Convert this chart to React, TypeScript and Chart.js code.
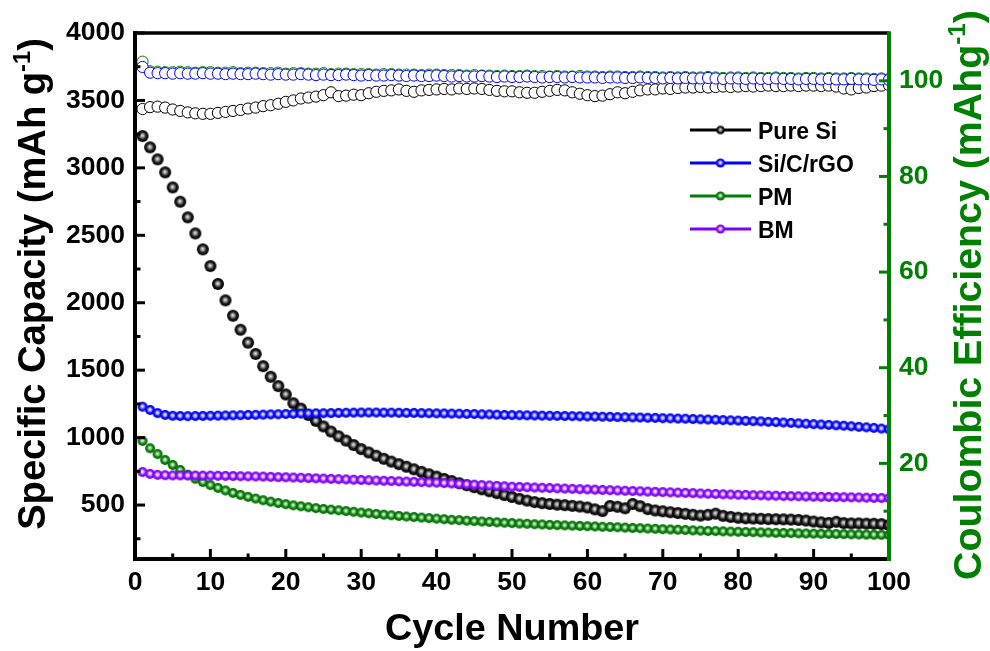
import React, { useEffect, useRef } from 'react';
import { Chart, registerables } from 'chart.js';

Chart.register(...registerables);

const FONT = '"Liberation Sans", Arial, Helvetica, sans-serif';

// ---------- data ----------
const cycles = Array.from({ length: 100 }, (_, i) => i + 1);

const xTicks = [0, 10, 20, 30, 40, 50, 60, 70, 80, 90, 100];
const leftTicks = [500, 1000, 1500, 2000, 2500, 3000, 3500, 4000];
const rightTicks = [20, 40, 60, 80, 100];

const seriesNames = ['Pure Si', 'Si/C/rGO', 'PM', 'BM'];

const pureSiCap = [
  3236, 3152, 3063, 2967, 2855, 2749, 2633, 2514, 2396, 2272,
  2139, 2018, 1904, 1800, 1704, 1620, 1530, 1451, 1382, 1320,
  1255, 1215, 1168, 1124, 1083, 1045, 1010, 978, 945, 915,
  890, 866, 843, 822, 803, 784, 765, 746, 728, 711,
  694, 678, 662, 647, 632, 617, 602, 588, 574, 560,
  546, 533, 522, 514, 508, 503, 499, 494, 489, 482,
  468, 455, 493, 487, 476, 508, 492, 470, 460, 454,
  447, 441, 435, 428, 422, 428, 436, 420, 412, 406,
  402, 400, 398, 396, 395, 394, 392, 390, 385, 378,
  372, 367, 376, 366, 364, 364, 362, 361, 359, 352,
];

const sicrgoCap = [
  1229, 1205, 1182, 1168, 1162, 1160, 1159, 1160, 1161, 1162,
  1163, 1164, 1165, 1166, 1168, 1169, 1170, 1172, 1173, 1175,
  1176, 1178, 1179, 1180, 1181, 1182, 1183, 1184, 1185, 1186,
  1186, 1186, 1185, 1185, 1184, 1183, 1183, 1182, 1181, 1180,
  1179, 1178, 1177, 1176, 1175, 1173, 1172, 1170, 1168, 1167,
  1166, 1165, 1164, 1163, 1162, 1161, 1160, 1159, 1158, 1157,
  1156, 1155, 1154, 1152, 1151, 1150, 1149, 1147, 1146, 1144,
  1143, 1141, 1140, 1138, 1136, 1134, 1132, 1130, 1128, 1126,
  1124, 1122, 1120, 1117, 1115, 1112, 1109, 1106, 1103, 1100,
  1097, 1094, 1091, 1088, 1084, 1080, 1076, 1072, 1067, 1062,
];

const pmCap = [
  975, 921, 878, 834, 797, 760, 725, 695, 670, 648,
  627, 608, 590, 575, 561, 548, 536, 525, 515, 506,
  498, 491, 484, 477, 471, 466, 461, 455, 450, 444,
  439, 434, 429, 424, 419, 415, 411, 407, 403, 399,
  395, 391, 388, 384, 381, 378, 375, 372, 369, 366,
  363, 361, 358, 356, 353, 351, 349, 347, 345, 343,
  341, 339, 337, 335, 333, 330, 328, 326, 324, 321,
  319, 317, 315, 312, 310, 308, 307, 305, 303, 302,
  300, 299, 297, 296, 294, 293, 292, 290, 289, 288,
  287, 286, 285, 284, 283, 282, 281, 280, 279, 278,
];

const bmCap = [
  745, 731, 724, 721, 720, 720, 719, 719, 718, 718,
  717, 716, 715, 714, 713, 712, 711, 709, 707, 706,
  704, 702, 700, 698, 696, 694, 692, 690, 688, 686,
  684, 682, 680, 678, 676, 674, 672, 670, 668, 666,
  663, 660, 657, 654, 651, 648, 645, 642, 639, 636,
  634, 632, 630, 628, 626, 624, 622, 620, 618, 616,
  614, 612, 610, 608, 606, 604, 602, 600, 598, 596,
  594, 592, 590, 588, 586, 584, 582, 580, 578, 576,
  575, 573, 572, 570, 569, 567, 566, 565, 563, 562,
  561, 560, 559, 558, 557, 556, 555, 553, 552, 551,
];

const pureSiCE = [
  94.1, 94.5, 94.6, 94.4, 94.0, 93.7, 93.4, 93.2, 93.1, 93.1,
  93.3, 93.5, 93.7, 93.9, 94.2, 94.4, 94.7, 94.9, 95.2, 95.6,
  95.9, 96.3, 96.5, 96.7, 97.0, 97.6, 96.8, 96.9, 97.1, 97.0,
  97.4, 97.7, 97.9, 98.0, 98.2, 97.9, 97.7, 98.0, 98.1, 98.2,
  98.3, 98.2, 98.4, 98.3, 98.4, 98.3, 98.1, 97.9, 97.8, 97.8,
  97.6, 97.5, 97.5, 97.7, 97.9, 98.1, 98.0, 97.6, 97.3, 97.0,
  96.8, 96.9, 97.2, 97.6, 97.4, 97.7, 98.0, 98.2, 98.2, 98.4,
  98.3, 98.5, 98.6, 98.6, 98.7, 98.6, 98.7, 98.8, 98.7, 98.8,
  98.9, 98.8, 98.9, 99.0, 98.9, 98.9, 99.0, 98.9, 99.0, 99.0,
  98.9, 99.0, 98.8, 98.4, 98.2, 98.5, 98.6, 98.9, 99.0, 99.1,
];

const sicrgoCE = [
  102.9, 101.7, 101.6, 101.6, 101.5, 101.6, 101.5, 101.5, 101.6, 101.5,
  101.5, 101.4, 101.5, 101.4, 101.4, 101.5, 101.4, 101.3, 101.4, 101.3,
  101.3, 101.4, 101.3, 101.2, 101.3, 101.2, 101.2, 101.3, 101.2, 101.1,
  101.2, 101.1, 101.1, 101.2, 101.1, 101.0, 101.1, 101.0, 101.0, 101.1,
  101.0, 100.9, 101.0, 100.9, 100.9, 101.0, 100.9, 100.8, 100.9, 100.8,
  100.8, 100.9, 100.8, 100.7, 100.8, 100.8, 100.7, 100.8, 100.7, 100.7,
  100.7, 100.6, 100.7, 100.7, 100.6, 100.6, 100.7, 100.6, 100.6, 100.5,
  100.6, 100.5, 100.6, 100.5, 100.5, 100.6, 100.5, 100.4, 100.5, 100.5,
  100.4, 100.5, 100.4, 100.4, 100.5, 100.4, 100.4, 100.3, 100.4, 100.4,
  100.3, 100.4, 100.3, 100.3, 100.4, 100.3, 100.3, 100.2, 100.3, 100.2,
];

const pmCE = [
  104.0, 102.0, 101.9, 101.8, 101.8, 101.9, 101.8, 101.7, 101.8, 101.8,
  101.7, 101.7, 101.8, 101.6, 101.7, 101.7, 101.6, 101.6, 101.7, 101.5,
  101.6, 101.6, 101.5, 101.5, 101.6, 101.4, 101.5, 101.5, 101.4, 101.4,
  101.4, 101.3, 101.4, 101.4, 101.3, 101.3, 101.3, 101.2, 101.3, 101.3,
  101.2, 101.2, 101.2, 101.1, 101.2, 101.1, 101.1, 101.0, 101.1, 101.0,
  101.0, 101.1, 101.0, 101.0, 100.9, 101.0, 100.9, 100.9, 101.0, 100.9,
  100.9, 100.8, 100.9, 100.9, 100.8, 100.8, 100.9, 100.8, 100.8, 100.7,
  100.8, 100.7, 100.8, 100.7, 100.7, 100.8, 100.7, 100.6, 100.7, 100.7,
  100.6, 100.7, 100.6, 100.6, 100.7, 100.6, 100.6, 100.5, 100.6, 100.6,
  100.5, 100.6, 100.5, 100.5, 100.6, 100.5, 100.5, 100.4, 100.5, 100.4,
];

// ---------- styling ----------
const BLACK = '#000000';
const BLUE = '#0000ff';
const GREEN = '#008000';
const PURPLE = '#8000ff';

type SphereSpec = { c0: string; c1: string; c2: string; c3: string };
const SPHERE: Record<string, SphereSpec> = {
  black: { c0: '#f4f4f4', c1: '#9a9a9a', c2: '#1a1a1a', c3: '#000000' },
  blue: { c0: '#ffffff', c1: '#b4b4ff', c2: '#1010ff', c3: '#0000e0' },
  green: { c0: '#ffffff', c1: '#9ccf9c', c2: '#0a820a', c3: '#006a00' },
  purple: { c0: '#ffffff', c1: '#e2b8ff', c2: '#8a12ff', c3: '#7400e8' },
};

function makeSphere(spec: SphereSpec, r: number): HTMLCanvasElement {
  const size = Math.ceil(r * 2 + 2);
  const c = document.createElement('canvas');
  c.width = size;
  c.height = size;
  const ctx = c.getContext('2d')!;
  const cx = size / 2;
  const cy = size / 2;
  const g = ctx.createRadialGradient(cx - r * 0.05, cy - r * 0.1, 0, cx, cy, r);
  g.addColorStop(0, spec.c0);
  g.addColorStop(0.28, spec.c1);
  g.addColorStop(0.62, spec.c2);
  g.addColorStop(1, spec.c3);
  ctx.fillStyle = g;
  ctx.beginPath();
  ctx.arc(cx, cy, r, 0, Math.PI * 2);
  ctx.fill();
  return c;
}

type Part = { t: string; sup?: boolean };

function drawRich(
  ctx: CanvasRenderingContext2D,
  parts: Part[],
  target: number,
  color: string,
  cx: number,
  baseline: number,
  rotate: boolean,
) {
  const base = 32;
  const measure = (size: number) => {
    let w = 0;
    for (const p of parts) {
      ctx.font = `bold ${p.sup ? size * 0.62 : size}px ${FONT}`;
      w += ctx.measureText(p.t).width;
    }
    return w;
  };
  const size = (base * target) / measure(base);
  const total = measure(size);
  ctx.save();
  if (rotate) {
    ctx.translate(baseline, cx);
    ctx.rotate(-Math.PI / 2);
  } else {
    ctx.translate(cx, baseline);
  }
  ctx.fillStyle = color;
  ctx.textBaseline = 'alphabetic';
  ctx.textAlign = 'left';
  let x = -total / 2;
  for (const p of parts) {
    ctx.font = `bold ${p.sup ? size * 0.62 : size}px ${FONT}`;
    ctx.fillText(p.t, x, p.sup ? -size * 0.4 : 0);
    x += ctx.measureText(p.t).width;
  }
  ctx.restore();
}

export default function App() {
  const ref = useRef<HTMLCanvasElement | null>(null);

  useEffect(() => {
    document.body.style.margin = '0';
    const canvas = ref.current;
    if (!canvas) return;

    const sBlack = makeSphere(SPHERE.black, 6);
    const sBlue = makeSphere(SPHERE.blue, 5);
    const sGreen = makeSphere(SPHERE.green, 5);
    const sPurple = makeSphere(SPHERE.purple, 5);
    const lBlack = makeSphere(SPHERE.black, 4.3);
    const lBlue = makeSphere(SPHERE.blue, 4.6);
    const lGreen = makeSphere(SPHERE.green, 4.6);
    const lPurple = makeSphere(SPHERE.purple, 4.6);

    const legendItems = [
      { name: seriesNames[0], color: BLACK, img: lBlack },
      { name: seriesNames[1], color: BLUE, img: lBlue },
      { name: seriesNames[2], color: GREEN, img: lGreen },
      { name: seriesNames[3], color: PURPLE, img: lPurple },
    ];

    const mk = (ys: number[]) => ys.map((y, i) => ({ x: cycles[i], y }));

    const sphereSet = (label: string, ys: number[], img: HTMLCanvasElement, order: number, color: string) => ({
      label,
      data: mk(ys),
      yAxisID: 'y',
      showLine: false,
      pointStyle: img as any,
      pointRadius: 5,
      pointHoverRadius: 5,
      borderColor: color,
      backgroundColor: color,
      order,
    });

    const ringSet = (label: string, ys: number[], color: string, order: number) => ({
      label,
      data: mk(ys),
      yAxisID: 'y2',
      showLine: false,
      pointStyle: 'circle',
      pointRadius: 5.6,
      pointHoverRadius: 5.6,
      pointBorderWidth: 1,
      borderColor: color,
      pointBorderColor: color,
      backgroundColor: '#ffffff',
      pointBackgroundColor: '#ffffff',
      order,
    });

    const tickFont = { family: FONT, size: 26.5, weight: 'bold' as const };

    const framePlugin = {
      id: 'frame',
      afterDatasetsDraw(chart: any) {
        const { ctx, chartArea: a, scales } = chart;
        const sx = scales.x;
        const sy = scales.y;
        const sy2 = scales.y2;
        ctx.save();
        const seg = (x1: number, y1: number, x2: number, y2: number, color: string, w: number) => {
          ctx.beginPath();
          ctx.strokeStyle = color;
          ctx.lineWidth = w;
          ctx.moveTo(x1, y1);
          ctx.lineTo(x2, y2);
          ctx.stroke();
        };
        const MAJ = 10;
        const MIN = 5.5;
        // x ticks
        for (let i = 0; i < xTicks.length; i++) {
          const px = sx.getPixelForValue(xTicks[i]);
          seg(px, a.bottom, px, a.bottom - MAJ, BLACK, 3);
          if (i < xTicks.length - 1) {
            const pm = sx.getPixelForValue((xTicks[i] + xTicks[i + 1]) / 2);
            seg(pm, a.bottom, pm, a.bottom - MIN, BLACK, 3);
          }
        }
        // left ticks
        for (let i = 0; i < leftTicks.length; i++) {
          const py = sy.getPixelForValue(leftTicks[i]);
          seg(a.left, py, a.left + MAJ, py, BLACK, 3);
        }
        for (let i = 1; i < leftTicks.length; i++) {
          const py = sy.getPixelForValue((leftTicks[i] + leftTicks[i - 1]) / 2);
          seg(a.left, py, a.left + MIN, py, BLACK, 3);
        }
        {
          const py = sy.getPixelForValue(leftTicks[0] - (leftTicks[1] - leftTicks[0]) / 2);
          if (py < a.bottom - 2) seg(a.left, py, a.left + MIN, py, BLACK, 3);
        }
        // right ticks
        const rt = [0, ...rightTicks];
        for (let i = 0; i < rt.length; i++) {
          const py = sy2.getPixelForValue(rt[i]);
          seg(a.right, py, a.right - MAJ, py, GREEN, 3);
          const pm = sy2.getPixelForValue(rt[i] + (rightTicks[1] - rightTicks[0]) / 2);
          if (pm > a.top + 2) seg(a.right, pm, a.right - MIN, pm, GREEN, 3);
        }
        // frame
        const W = 4;
        seg(a.left - W / 2, a.top, a.right, a.top, BLACK, 3.5);
        seg(a.left, a.top - 1.75, a.left, a.bottom + W / 2, BLACK, W);
        seg(a.left, a.bottom, a.right, a.bottom, BLACK, W);
        seg(a.right, a.top - 1.75, a.right, a.bottom + W / 2, GREEN, W);

        // axis titles
        drawRich(ctx, [{ t: 'Specific Capacity (mAh g' }, { t: '-1', sup: true }, { t: ')' }], 492, BLACK, 284, 45, true);
        drawRich(ctx, [{ t: 'Coulombic Efficiency (mAhg' }, { t: '-1', sup: true }, { t: ')' }], 570, GREEN, 295, 981, true);
        drawRich(ctx, [{ t: 'Cycle Number' }], 254, BLACK, 512, 640, false);

        // legend
        const rows = [130, 163, 196, 229];
        legendItems.forEach((it, i) => {
          const y = rows[i];
          seg(690, y, 751, y, it.color, 3);
          ctx.drawImage(it.img, 720.5 - it.img.width / 2, y - it.img.height / 2);
          ctx.fillStyle = BLACK;
          ctx.font = `bold 23px ${FONT}`;
          ctx.textAlign = 'left';
          ctx.textBaseline = 'alphabetic';
          ctx.fillText(it.name, 758, y + 8.5);
        });
        ctx.restore();
      },
    };

    const chart = new Chart(canvas, {
      type: 'line',
      data: {
        datasets: [
          sphereSet(seriesNames[3], bmCap, sPurple, 1, PURPLE),
          sphereSet(seriesNames[2], pmCap, sGreen, 2, GREEN),
          sphereSet(seriesNames[1], sicrgoCap, sBlue, 3, BLUE),
          sphereSet(seriesNames[0], pureSiCap, sBlack, 4, BLACK),
          ringSet(seriesNames[1] + ' CE', sicrgoCE, BLUE, 5),
          ringSet(seriesNames[2] + ' CE', pmCE, GREEN, 6),
          ringSet(seriesNames[0] + ' CE', pureSiCE, BLACK, 7),
        ] as any,
      },
      options: {
        responsive: false,
        maintainAspectRatio: false,
        devicePixelRatio: 1,
        animation: false,
        events: [],
        layout: { padding: { top: 33, left: 0, right: 0, bottom: 0 } },
        plugins: {
          legend: { display: false },
          tooltip: { enabled: false },
          title: { display: false },
        },
        scales: {
          x: {
            type: 'linear',
            position: 'bottom',
            min: 0,
            max: 100,
            grid: { display: false, drawTicks: false },
            border: { display: false },
            afterBuildTicks: (s: any) => {
              s.ticks = xTicks.map((v) => ({ value: v }));
            },
            afterFit: (s: any) => {
              s.height = 92;
            },
            ticks: {
              autoSkip: false,
              maxRotation: 0,
              padding: 8,
              color: BLACK,
              font: tickFont,
              callback: (v: any) => String(v),
            },
          },
          y: {
            type: 'linear',
            position: 'left',
            min: 100,
            max: 4000,
            grid: { display: false, drawTicks: false },
            border: { display: false },
            afterBuildTicks: (s: any) => {
              s.ticks = leftTicks.map((v) => ({ value: v }));
            },
            afterFit: (s: any) => {
              s.width = 135;
            },
            ticks: {
              autoSkip: false,
              padding: 10,
              color: BLACK,
              font: tickFont,
              callback: (v: any) => String(v),
            },
          },
          y2: {
            type: 'linear',
            position: 'right',
            min: 0,
            max: 110,
            grid: { display: false, drawTicks: false },
            border: { display: false },
            afterBuildTicks: (s: any) => {
              s.ticks = rightTicks.map((v) => ({ value: v }));
            },
            afterFit: (s: any) => {
              s.width = 101;
            },
            ticks: {
              autoSkip: false,
              padding: 10,
              color: GREEN,
              font: tickFont,
              callback: (v: any) => String(v),
            },
          },
        },
      } as any,
      plugins: [framePlugin],
    });

    return () => {
      chart.destroy();
    };
  }, []);

  return (
    <div style={{ width: 990, height: 651, position: 'relative' }}>
      <canvas ref={ref} width={990} height={651} style={{ display: 'block', width: 990, height: 651 }} />
    </div>
  );
}
